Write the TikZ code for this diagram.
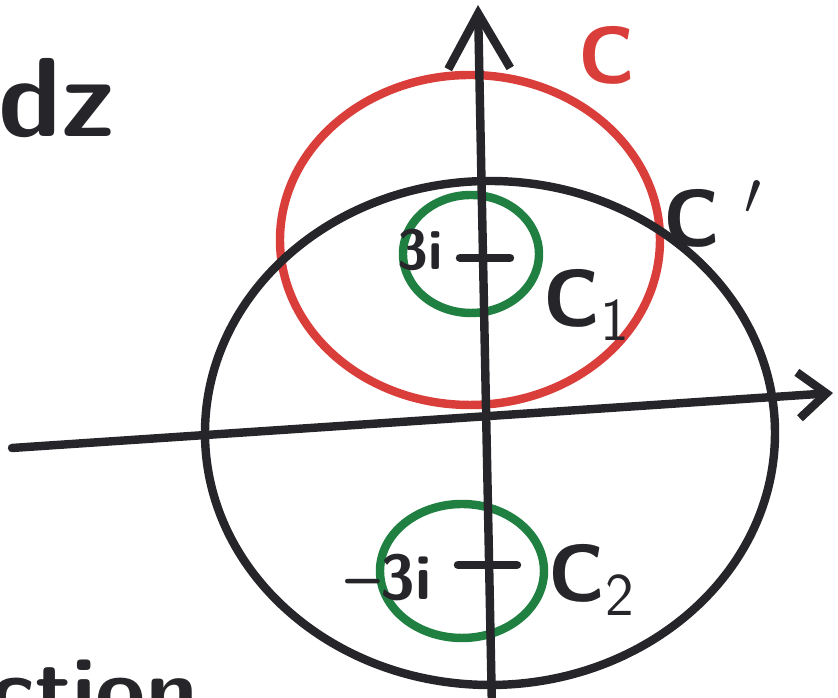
\documentclass[tikz,border=0pt]{standalone}
\usetikzlibrary{arrows.meta}

\definecolor{inkblack}{RGB}{38,38,42}
\definecolor{inkred}{RGB}{218,62,58}
\definecolor{inkgreen}{RGB}{32,128,66}

\tikzset{
  ink/.style={line width=2.4pt, line cap=round, line join=round},
  lbl/.style={font=\sffamily\bfseries\fontsize{23}{25}\selectfont, inner sep=0pt, text=inkblack},
}

\begin{document}
\begin{tikzpicture}[x=0.01cm, y=-0.01cm]

  % === Frame (pixel units, y downwards) ===
  \useasboundingbox (0,0) rectangle (838,698);
  \clip (0,0) rectangle (838,698);

  % === Contours ===
  \draw[ink, inkred] (470,240) ellipse [x radius=190, y radius=165];
  \draw[ink, inkblack] (490,433) ellipse [x radius=285, y radius=252];
  \draw[ink, inkgreen] (471,254) ellipse [x radius=68, y radius=59];
  \draw[ink, inkgreen] (462,571) ellipse [x radius=82, y radius=67];

  % === Axes ===
  \coordinate (xs) at (12,448);
  \coordinate (xe) at (833,393);
  \coordinate (ys) at (492,710);
  \coordinate (ye) at (478,5);
  \draw[ink, inkblack, -{Straight Barb[length=0.28cm, width=0.46cm]}] (xs) -- (xe);
  \draw[ink, inkblack, -{Straight Barb[length=0.55cm, width=0.62cm]}] (ys) -- (ye);

  % === Poles +3i and -3i ===
  \draw[ink, inkblack] (460,258) -- (510,258);
  \draw[ink, inkblack] (458,565) -- (517,565);
  \node[lbl, font=\sffamily\bfseries\fontsize{16}{18}\selectfont, anchor=east] (top) at (444,250) {3i};
  \node[lbl, font=\sffamily\bfseries\fontsize{18}{20}\selectfont, anchor=east] (bot) at (432,578) {--3i};

  % === Labels ===
  \node[lbl, text=inkred] (C) at (607,55) {C};
  \node[lbl, anchor=west] (Cp) at (663,214) {C\hspace{0.3em}$'$};
  \node[lbl, anchor=west] (Cone) at (543,305) {C$_{\mathsf{1}}$};
  \node[lbl, anchor=west] (Ctwo) at (548,580) {C$_{\mathsf{2}}$};

  % === Text cut by the page edge ===
  \node[lbl, font=\sffamily\bfseries\fontsize{32}{34}\selectfont, anchor=base west] (dz) at (-2,137) {dz};
  \node[lbl, font=\sffamily\bfseries\fontsize{26}{28}\selectfont, anchor=base west] (fn) at (-10,722) {ction};

\end{tikzpicture}
\end{document}
